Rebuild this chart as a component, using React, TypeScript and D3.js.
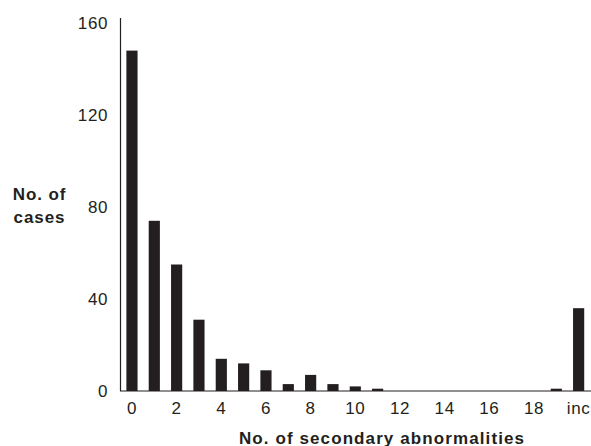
import React from "react";
import * as d3 from "d3";

const categories = ["0","1","2","3","4","5","6","7","8","9","10","11","12","13","14","15","16","17","18","19","inc"];
const cases = [148, 74, 55, 31, 14, 12, 9, 3, 7, 3, 2, 1, 0, 0, 0, 0, 0, 0, 0, 1, 36];
const xTickLabels = ["0","2","4","6","8","10","12","14","16","18","inc"];
const yTicks = [0, 40, 80, 120, 160];

export default function App() {
  const W = 591, H = 446;
  const x = d3.scaleBand<string>().domain(categories).range([120.8, 589.8]).paddingInner(0.5).paddingOuter(0.25);
  const y = d3.scaleLinear().domain([0, 160]).range([391, 23]);
  const font = "'Liberation Sans', Arial, Helvetica, sans-serif";
  const dark = "#231f20";
  return (
    <svg width={W} height={H} style={{ position: "absolute", left: 0, top: 0 }} fontFamily={font}>
      {categories.map((c, i) => (
        <rect key={c} x={x(c)} y={y(cases[i])} width={x.bandwidth()} height={y(0) - y(cases[i])} fill={dark} />
      ))}
      <line x1={120.5} x2={120.5} y1={18} y2={391} stroke={dark} strokeWidth={1.2} />
      <line x1={120} x2={591} y1={391} y2={391} stroke={dark} strokeWidth={1.2} />
      {yTicks.map(t => (
        <text key={t} x={108} y={y(t)} dy="0.35em" textAnchor="end" fontSize={17} letterSpacing={0.6} fill={dark}>{t}</text>
      ))}
      {xTickLabels.map(t => (
        <text key={t} x={(x(t) as number) + x.bandwidth() / 2} y={413.5} textAnchor="middle" fontSize={17} letterSpacing={0.6} fill={dark}>{t}</text>
      ))}
      <text x={39.5} y={200} textAnchor="middle" fontSize={17} fontWeight="bold" letterSpacing={0.9} fill={dark}>
        <tspan x={39.5}>No. of</tspan>
        <tspan x={39.5} dy={22.5}>cases</tspan>
      </text>
      <text x={382} y={443.5} textAnchor="middle" fontSize={17} fontWeight="bold" letterSpacing={1.1} fill={dark}>No. of secondary abnormalities</text>
    </svg>
  );
}
